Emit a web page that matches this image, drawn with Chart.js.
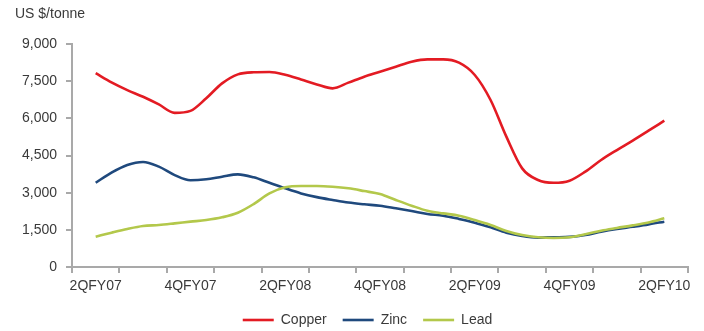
<!DOCTYPE html>
<html>
<head>
<meta charset="utf-8">
<script src="https://cdn.jsdelivr.net/npm/chart.js@4/dist/chart.umd.min.js"></script>
<style>
  html, body { margin: 0; padding: 0; background: #fff; }
  canvas { display: block; }
</style>
</head>
<body>
<canvas id="metalsChart" width="704" height="331"></canvas>
<script>
// One category per quarter, labelled every second quarter
const quarters = ['2QFY07', '3QFY07', '4QFY07', '1QFY08', '2QFY08', '3QFY08', '4QFY08',
                  '1QFY09', '2QFY09', '3QFY09', '4QFY09', '1QFY10', '2QFY10'];

// Monthly prices (US$/tonne), three per quarter from 2QFY07 to 2QFY10
const copper = [7820, 7450, 7140, 6870, 6560, 6220, 6300, 6810, 7410, 7775, 7860, 7870, 7760,
                7570, 7370, 7210, 7440, 7680, 7880, 8085, 8285, 8380, 8380, 8245, 7750, 6740,
                5260, 3980, 3510, 3400, 3485, 3850, 4320, 4720, 5100, 5500, 5905];
const zinc = [3400, 3810, 4120, 4240, 4050, 3710, 3500, 3540, 3645, 3740, 3620, 3400, 3175,
              2970, 2820, 2705, 2600, 2530, 2475, 2370, 2260, 2140, 2070, 1940, 1790, 1600,
              1385, 1250, 1185, 1200, 1215, 1290, 1425, 1535, 1625, 1720, 1830];
const lead = [1225, 1385, 1535, 1655, 1695, 1760, 1830, 1895, 2005, 2190, 2540, 2970, 3215,
              3270, 3270, 3240, 3175, 3065, 2945, 2705, 2475, 2270, 2165, 2070, 1895, 1695,
              1455, 1290, 1200, 1170, 1200, 1320, 1465, 1575, 1680, 1800, 1965];

const yTicks = [0, 1500, 3000, 4500, 6000, 7500, 9000];

const FONT = '"Liberation Sans", Arial, sans-serif';
const TEXT = '#3a3a3a';
const AXIS = '#a9a9a9';

// month i sits at i/3 of a quarter from the first quarter's centre
function toPoints(values) {
    return values.map((v, i) => ({ x: i / 3, y: v }));
}

// Unit label above the value axis
const unitLabel = {
    id: 'unitLabel',
    afterDraw(chart) {
        const ctx = chart.ctx;
        ctx.save();
        ctx.font = '14px ' + FONT;
        ctx.fillStyle = TEXT;
        ctx.textBaseline = 'middle';
        ctx.textAlign = 'left';
        ctx.fillText('US $/tonne', 15, 14);
        ctx.restore();
    }
};

// Legend sits a little right of the canvas centre
const legendShift = {
    id: 'legendShift',
    afterLayout(chart) {
        if (chart.legend) {
            chart.legend.left += 16;
            chart.legend.right += 16;
        }
    }
};

const leftPad = 15;

new Chart(document.getElementById('metalsChart'), {
    type: 'line',
    data: {
        datasets: [{
            label: 'Copper',
            data: toPoints(copper),
            borderColor: '#e31b23',
            borderWidth: 2.6,
            order: 2
        }, {
            label: 'Zinc',
            data: toPoints(zinc),
            borderColor: '#1f497d',
            borderWidth: 2.6,
            order: 1
        }, {
            label: 'Lead',
            data: toPoints(lead),
            borderColor: '#b3c84b',
            borderWidth: 2.6,
            order: 0
        }]
    },
    options: {
        responsive: false,
        animation: false,
        devicePixelRatio: 1,
        layout: {
            padding: { left: leftPad, right: 16, top: 44, bottom: -6 }
        },
        elements: {
            line: { cubicInterpolationMode: 'monotone', fill: false },
            point: { radius: 0, hoverRadius: 0 }
        },
        scales: {
            x: {
                type: 'linear',
                min: -0.5,
                max: quarters.length - 0.5,
                afterBuildTicks: (scale) => {
                    // half-quarter steps: boundaries carry the tick marks, centres carry labels
                    const ticks = [];
                    for (let v = -0.5; v <= quarters.length - 0.5; v += 0.5) {
                        ticks.push({ value: v });
                    }
                    scale.ticks = ticks;
                },
                afterFit: (scale) => { scale.height = 30; },
                border: { display: true, color: AXIS, width: 2 },
                grid: {
                    drawOnChartArea: false,
                    drawTicks: true,
                    tickLength: 6,
                    lineWidth: 2,
                    tickColor: (ctx) => (ctx.tick && Number.isInteger(ctx.tick.value)) ? 'rgba(0,0,0,0)' : AXIS
                },
                ticks: {
                    autoSkip: false,
                    maxRotation: 0,
                    minRotation: 0,
                    padding: 5,
                    color: TEXT,
                    font: { family: FONT, size: 14 },
                    callback: (value) => {
                        if (Number.isInteger(value) && value % 2 === 0) {
                            return quarters[value];
                        }
                        return '';
                    }
                }
            },
            y: {
                min: yTicks[0],
                max: yTicks[yTicks.length - 1],
                afterBuildTicks: (scale) => {
                    scale.ticks = yTicks.map(v => ({ value: v }));
                },
                afterFit: (scale) => { scale.width = 72 - leftPad; },
                border: { display: true, color: AXIS, width: 2 },
                grid: {
                    drawOnChartArea: false,
                    drawTicks: true,
                    tickLength: 6,
                    lineWidth: 2,
                    color: AXIS
                },
                ticks: {
                    padding: 9,
                    color: TEXT,
                    font: { family: FONT, size: 14 },
                    callback: (value) => value.toLocaleString('en-US')
                }
            }
        },
        plugins: {
            legend: {
                position: 'bottom',
                labels: {
                    usePointStyle: true,
                    pointStyle: 'line',
                    pointStyleWidth: 31,
                    padding: 16,
                    color: TEXT,
                    font: { family: FONT, size: 14 },
                    sort: (a, b) => a.datasetIndex - b.datasetIndex
                }
            },
            tooltip: { enabled: false }
        }
    },
    plugins: [unitLabel, legendShift]
});
</script>
</body>
</html>
